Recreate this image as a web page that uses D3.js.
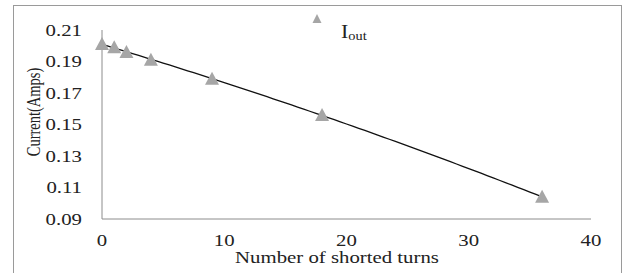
<!DOCTYPE html>
<html><head><meta charset="utf-8">
<script src="https://cdn.jsdelivr.net/npm/d3@7"></script>
<style>body{margin:0;background:#fff}svg{display:block}</style>
</head><body>
<script>
const turns = [0, 1, 2, 4, 9, 18, 36];
const current = [0.201, 0.199, 0.196, 0.191, 0.179, 0.156, 0.104];
const xTicks = [0, 10, 20, 30, 40];
const yTicks = [0.09, 0.11, 0.13, 0.15, 0.17, 0.19, 0.21];
const seriesName = "I";
const seriesSub = "out";
const xTitle = "Number of shorted turns";
const yTitle = "Current(Amps)";

const W = 639, H = 273, SX = 1.3;
const FONT = "'Liberation Serif', 'Times New Roman', Times, serif";
const svg = d3.select("body").append("svg").attr("width", W).attr("height", H)
  .attr("font-family", FONT);

const x = d3.scaleLinear().domain([0, 40]).range([102, 591]);
const y = d3.scaleLinear().domain([0.09, 0.21]).range([219, 30]);

// outer frame
svg.append("rect").attr("x", 13.5).attr("y", 5.5).attr("width", 608).attr("height", 280)
  .attr("fill", "none").attr("stroke", "#9a9a9a").attr("stroke-width", 1);

// axes lines
svg.append("line").attr("x1", x(0)).attr("x2", x(0)).attr("y1", y(0.21)).attr("y2", y(0.09))
  .attr("stroke", "#8c8c8c").attr("stroke-width", 1);
svg.append("line").attr("x1", x(0)).attr("x2", x(40)).attr("y1", y(0.09)).attr("y2", y(0.09))
  .attr("stroke", "#8c8c8c").attr("stroke-width", 1);

function stretched(tx, ty, str, size, anchor) {
  return svg.append("text")
    .attr("transform", `translate(${tx},${ty}) scale(${SX},1)`)
    .attr("font-family", FONT).attr("fill", "#222")
    .attr("text-anchor", anchor).attr("font-size", size).text(str);
}

// y tick labels
yTicks.forEach(v => stretched(82, y(v) + 5.5, d3.format(".2f")(v), 16, "end"));
// x tick labels
xTicks.forEach(v => stretched(x(v), 246, String(v), 16, "middle"));

// titles
stretched(337, 263, xTitle, 16, "middle");
svg.append("text")
  .attr("transform", `translate(39.5,112) scale(${SX},1) rotate(-90)`)
  .attr("font-family", FONT).attr("fill", "#222")
  .attr("text-anchor", "middle").attr("font-size", 14.5).text(yTitle);

// quadratic least-squares trendline from data
function polyfit2(xs, ys) {
  const n = xs.length;
  let s = [0,0,0,0,0], t = [0,0,0];
  for (let i = 0; i < n; i++) {
    for (let k = 0; k < 5; k++) s[k] += Math.pow(xs[i], k);
    for (let k = 0; k < 3; k++) t[k] += ys[i] * Math.pow(xs[i], k);
  }
  const A = [[s[0],s[1],s[2],t[0]],[s[1],s[2],s[3],t[1]],[s[2],s[3],s[4],t[2]]];
  for (let i = 0; i < 3; i++) {
    for (let j = i + 1; j < 3; j++) {
      const f = A[j][i] / A[i][i];
      for (let k = i; k < 4; k++) A[j][k] -= f * A[i][k];
    }
  }
  const c = [0,0,0];
  for (let i = 2; i >= 0; i--) {
    let v = A[i][3];
    for (let k = i + 1; k < 3; k++) v -= A[i][k] * c[k];
    c[i] = v / A[i][i];
  }
  return c;
}
const c = polyfit2(turns, current);
const trendX = d3.range(0, 36.01, 0.5);
svg.append("path")
  .attr("d", d3.line().x(d => x(d)).y(d => y(c[0] + c[1]*d + c[2]*d*d))(trendX))
  .attr("fill", "none").attr("stroke", "#111").attr("stroke-width", 1.3);

// markers
const tri = (w, h) => `M0,${-h*0.55}L${w/2},${h*0.45}L${-w/2},${h*0.45}Z`;
svg.selectAll("path.m").data(turns).enter().append("path").attr("class", "m")
  .attr("transform", (d, i) => `translate(${x(d)},${y(current[i])})`)
  .attr("d", tri(14, 13)).attr("fill", "#a6a6a6");

// legend
svg.append("path").attr("transform", "translate(317,19)").attr("d", tri(9, 9)).attr("fill", "#a6a6a6");
const lt = svg.append("text").attr("transform", `translate(341,38) scale(1.15,1)`)
  .attr("font-family", FONT).attr("fill", "#222").attr("font-size", 19);
lt.append("tspan").text(seriesName);
lt.append("tspan").attr("font-size", 12.5).attr("dy", 1.5).text(seriesSub);
</script>
</body></html>
